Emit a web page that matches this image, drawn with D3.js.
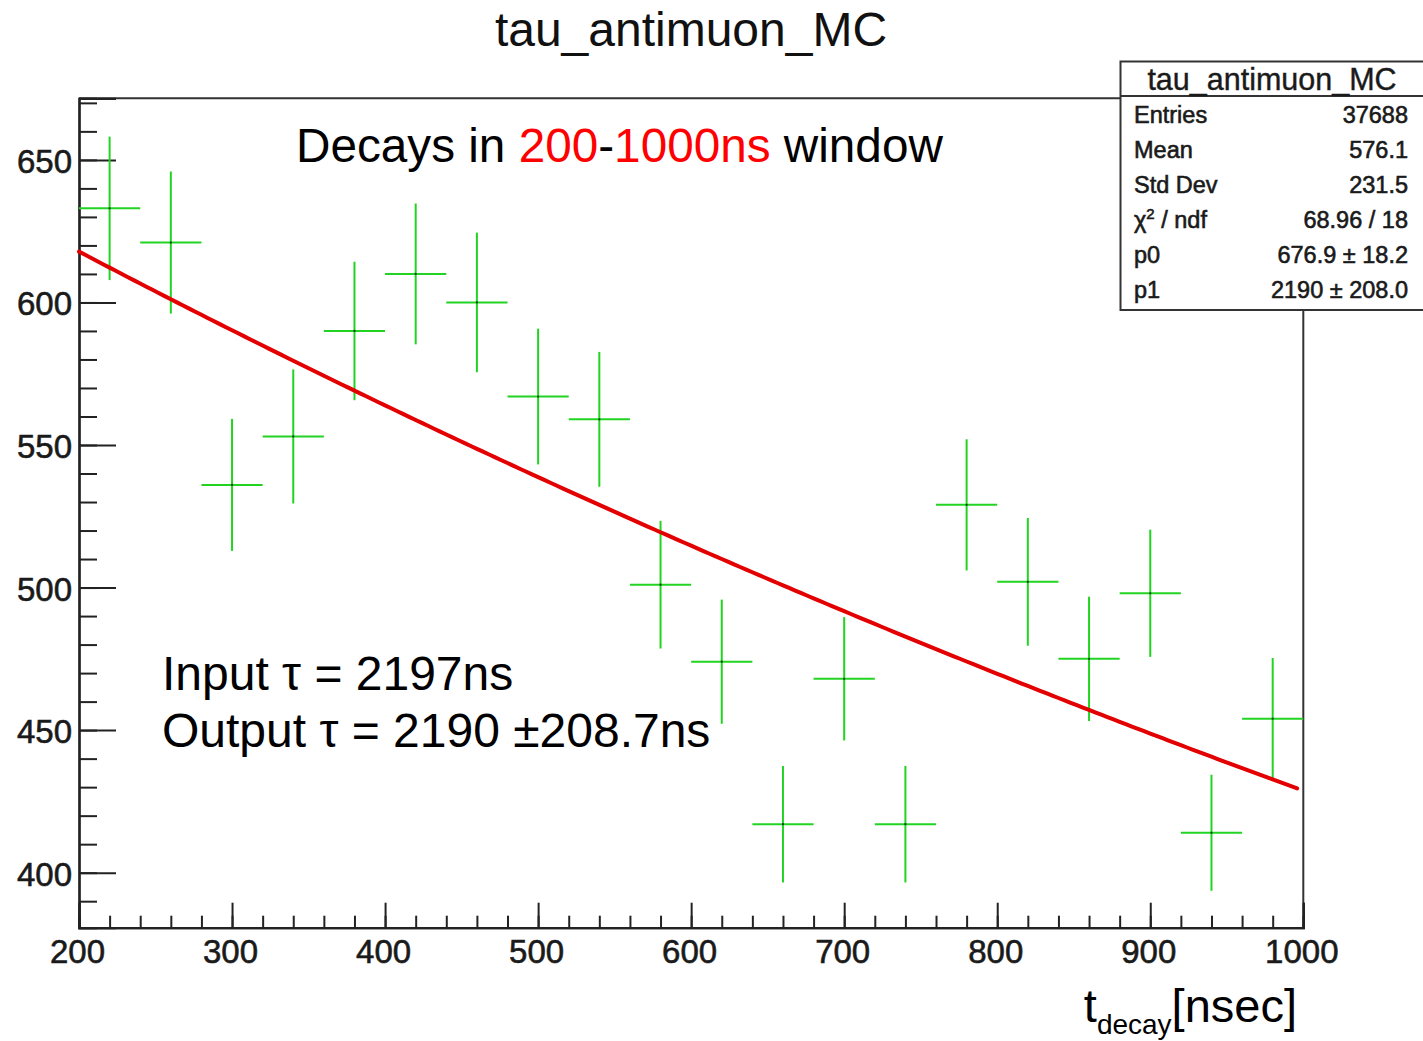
<!DOCTYPE html>
<html><head><meta charset="utf-8">
<script src="https://cdn.jsdelivr.net/npm/d3@7"></script>
<style>
html,body{margin:0;padding:0;background:#fff;}
svg text{font-family:"Liberation Sans",Arial,Helvetica,sans-serif;}
</style></head>
<body>
<svg id="c" width="1423" height="1041"></svg>
<script>
// ---- data ----
const binCenters = [220,260,300,340,380,420,460,500,540,580,620,660,700,740,780,820,860,900,940,980];
const counts     = [633,621,536,553,590,610,600,567,559,501,474,417,468,417,529,502,475,498,414,454];
const binWidth = 40;
const fitP0 = 676.9, fitP1 = 2190; // fit: p0*exp(-t/p1)
const xMajorTicks = [200,300,400,500,600,700,800,900,1000];
const yMajorTicks = [400,450,500,550,600,650];
const statsLabels = ["Entries","Mean","Std Dev","chi2","p0","p1"];
const statsValues = ["37688","576.1","231.5","68.96 / 18","676.9 \u00b1 18.2","2190 \u00b1 208.0"];

const svg = d3.select("#c");
const L = 79, R = 1303.3, T = 98.3, B = 927.7;
const x = d3.scaleLinear().domain([200,1000]).range([L,R]);
const y = d3.scaleLinear().domain([380.7,671.6]).range([B,T]);

// frame top/right
svg.append("line").attr("x1",L).attr("x2",R).attr("y1",T).attr("y2",T).attr("stroke","#333").attr("stroke-width",2);
svg.append("line").attr("x1",R).attr("x2",R).attr("y1",T).attr("y2",B).attr("stroke","#333").attr("stroke-width",2);

// Y axis
const yMinor = d3.range(390,671,10);
const gyMinor = svg.append("g").attr("transform",`translate(${L},0)`)
  .call(d3.axisLeft(y).tickValues(yMinor).tickSize(-18).tickFormat(""));
const gy = svg.append("g").attr("transform",`translate(${L},0)`)
  .call(d3.axisLeft(y).tickValues(yMajorTicks).tickSize(-37).tickPadding(7).tickFormat(d3.format("d")));
// X axis
const xMinor = d3.range(200,1001,20);
const gxMinor = svg.append("g").attr("transform",`translate(0,${B})`)
  .call(d3.axisBottom(x).tickValues(xMinor).tickSize(-12).tickFormat(""));
const gx = svg.append("g").attr("transform",`translate(0,${B})`)
  .call(d3.axisBottom(x).tickValues(xMajorTicks).tickSize(-25).tickPadding(12).tickFormat(d3.format("d")));

[gyMinor,gy,gxMinor,gx].forEach(g=>{
  g.selectAll("path.domain").attr("stroke","#222").attr("stroke-width",2.2);
  g.selectAll(".tick line").attr("stroke","#222").attr("stroke-width",2);
});
gy.selectAll("text").attr("font-size",33).attr("fill","#1a1a1a").attr("dy","0.38em")
  .attr("stroke","#1a1a1a").attr("stroke-width",0.6)
  .attr("font-family","'Liberation Sans',Arial,sans-serif");
gx.selectAll("text").attr("font-size",33).attr("fill","#1a1a1a").attr("dx",-2)
  .attr("stroke","#1a1a1a").attr("stroke-width",0.6)
  .attr("font-family","'Liberation Sans',Arial,sans-serif");

// data crosses
const green = "#22d422";
const pts = binCenters.map((c,i)=>({c, v:counts[i], e:Math.sqrt(counts[i])}));
const gd = svg.append("g");
gd.selectAll("line.h").data(pts).join("line").attr("class","h")
  .attr("x1",d=>x(d.c-binWidth/2)).attr("x2",d=>x(d.c+binWidth/2))
  .attr("y1",d=>y(d.v)).attr("y2",d=>y(d.v)).attr("stroke",green).attr("stroke-width",2);
gd.selectAll("line.v").data(pts).join("line").attr("class","v")
  .attr("x1",d=>x(d.c)).attr("x2",d=>x(d.c))
  .attr("y1",d=>y(d.v-d.e)).attr("y2",d=>y(d.v+d.e)).attr("stroke",green).attr("stroke-width",2);
gd.selectAll("circle").data(pts).join("circle")
  .attr("cx",d=>x(d.c)).attr("cy",d=>y(d.v)).attr("r",1.1).attr("fill","#0a400a");

// fit curve
const fitT = d3.range(200,996.1,4);
svg.append("path").datum(fitT)
  .attr("d",d3.line().x(t=>x(t)).y(t=>y(fitP0*Math.exp(-t/fitP1))))
  .attr("fill","none").attr("stroke","#e30000").attr("stroke-width",4).attr("stroke-linecap","round");

// title
svg.append("text").attr("x",691).attr("y",46).attr("text-anchor","middle")
  .attr("font-size",48).attr("fill","#111").text("tau_antimuon_MC");

// annotation
const ann = svg.append("text").attr("x",296).attr("y",162).attr("font-size",47.7).attr("fill","#000");
ann.append("tspan").text("Decays in ");
ann.append("tspan").attr("fill","#ff0000").text("200");
ann.append("tspan").text("-");
ann.append("tspan").attr("fill","#ff0000").text("1000ns");
ann.append("tspan").text(" window");

svg.append("text").attr("x",162).attr("y",690).attr("font-size",48).attr("fill","#000").text("Input \u03c4 = 2197ns");
svg.append("text").attr("x",162).attr("y",747).attr("font-size",48).attr("fill","#000").text("Output \u03c4 = 2190 \u00b1208.7ns");

// x axis title
const xt = svg.append("text").attr("x",1297).attr("y",1022).attr("text-anchor","end").attr("font-size",47).attr("fill","#000");
xt.append("tspan").text("t");
xt.append("tspan").attr("font-size",28).attr("dy",12).text("decay");
xt.append("tspan").attr("dy",-12).text("[nsec]");

// stats box
const sb = svg.append("g");
sb.append("rect").attr("x",1120.5).attr("y",61.5).attr("width",320).attr("height",248.5)
  .attr("fill","#fff").attr("stroke","#333").attr("stroke-width",2);
sb.append("line").attr("x1",1120.5).attr("x2",1430).attr("y1",96).attr("y2",96).attr("stroke","#333").attr("stroke-width",2);
sb.append("text").attr("x",1272).attr("y",90).attr("text-anchor","middle").attr("font-size",30.5)
  .attr("fill","#1a1a1a").attr("stroke","#1a1a1a").attr("stroke-width",0.4).text("tau_antimuon_MC");
statsLabels.forEach((lab,i)=>{
  const yy = 123 + i*35;
  const t = sb.append("text").attr("x",1134).attr("y",yy).attr("font-size",23.5)
    .attr("fill","#1a1a1a").attr("stroke","#1a1a1a").attr("stroke-width",0.6);
  if (lab==="chi2") {
    t.append("tspan").text("\u03c7");
    t.append("tspan").attr("font-size",15).attr("dy",-9).text("2");
    t.append("tspan").attr("dy",9).text(" / ndf");
  } else t.text(lab);
  sb.append("text").attr("x",1408).attr("y",yy).attr("text-anchor","end").attr("font-size",23.5)
    .attr("fill","#1a1a1a").attr("stroke","#1a1a1a").attr("stroke-width",0.6).text(statsValues[i]);
});
</script>
</body></html>
